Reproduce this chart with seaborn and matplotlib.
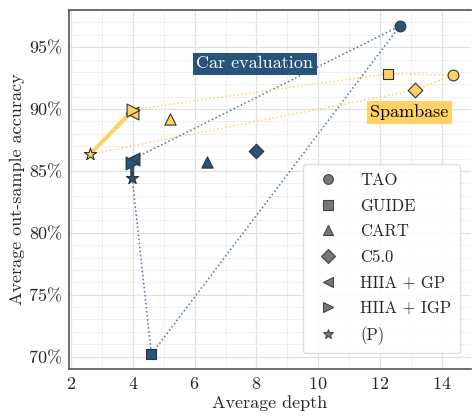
import pandas as pd
import numpy as np
import matplotlib
matplotlib.use('Agg')
import matplotlib.pyplot as plt
import seaborn as sns
from matplotlib.lines import Line2D
from matplotlib.ticker import PercentFormatter, MultipleLocator

methods = ['TAO', 'GUIDE', 'CART', 'C5.0', 'HIIA + GP', 'HIIA + IGP', '(P)']
car_depth = [12.65, 4.6, 6.4, 8.0, 4.0, 3.96, 3.98]
car_acc = [96.72, 70.2, 85.75, 86.6, 85.95, 85.6, 84.41]
spam_depth = [14.35, 12.26, 5.2, 13.15, 3.97, 3.99, 2.61]
spam_acc = [92.74, 92.85, 89.19, 91.53, 89.7, 89.95, 86.35]

blue = '#26547c'
yellow = '#ffd166'
markers = {'TAO': 'o', 'GUIDE': 's', 'CART': '^', 'C5.0': 'D',
           'HIIA + GP': '<', 'HIIA + IGP': '>', '(P)': '*'}
sizes = {'TAO': 60, 'GUIDE': 60, 'CART': 65, 'C5.0': 55,
         'HIIA + GP': 85, 'HIIA + IGP': 85, '(P)': 85}
leg_sizes = {'TAO': 7, 'GUIDE': 7, 'CART': 7, 'C5.0': 7.5,
             'HIIA + GP': 7.5, 'HIIA + IGP': 7.5, '(P)': 7.5}

df = pd.DataFrame({
    'method': methods * 2,
    'depth': car_depth + spam_depth,
    'acc': car_acc + spam_acc,
    'dataset': ['Car evaluation'] * 7 + ['Spambase'] * 7,
})

sns.set_style('whitegrid')
plt.rcParams['font.family'] = 'serif'
plt.rcParams['font.serif'] = ['cmr10', 'DejaVu Serif']
plt.rcParams['mathtext.fontset'] = 'cm'
plt.rcParams['axes.formatter.use_mathtext'] = True

fig = plt.figure(figsize=(4.72, 4.16), dpi=100)
ax = fig.add_axes([0.146, 0.113, 0.852, 0.863])


def pt(ds, m):
    row = df[(df.dataset == ds) & (df.method == m)].iloc[0]
    return row.depth, row.acc


def path(ds, seq, color, **kw):
    xs = [pt(ds, m)[0] for m in seq]
    ys = [pt(ds, m)[1] for m in seq]
    ax.plot(xs, ys, color=color, zorder=2, **kw)


# dotted connections
path('Car evaluation', ['(P)', 'GUIDE', 'TAO', 'HIIA + GP'], '#4a74a0', ls=':', lw=1.1)
path('Spambase', ['(P)', 'C5.0', 'TAO', 'GUIDE', 'HIIA + IGP'], yellow, ls=':', lw=1.1)
# solid thick links
for m in ['HIIA + GP', 'HIIA + IGP']:
    path('Car evaluation', ['(P)', m], blue, lw=2.5, solid_capstyle='butt')
    path('Spambase', ['(P)', m], yellow, lw=2.5, alpha=0.85, solid_capstyle='butt')

for ds, col in [('Car evaluation', blue), ('Spambase', yellow)]:
    sub = df[df.dataset == ds]
    for m in methods:
        s = sub[sub.method == m]
        sns.scatterplot(data=s, x='depth', y='acc', marker=markers[m], s=sizes[m],
                        color=col, edgecolor='#333333', linewidth=0.8, ax=ax,
                        zorder=4, legend=False)

ax.text(7.95, 93.65, 'Car evaluation', color='white', fontsize=13, ha='center', va='center',
        bbox=dict(boxstyle='square,pad=0.2', fc=blue, ec='none'), zorder=5)
ax.text(12.95, 89.75, 'Spambase', color='black', fontsize=13, ha='center', va='center',
        bbox=dict(boxstyle='square,pad=0.2', fc=yellow, ec='none'), zorder=5)

ax.set_xlim(1.93, 14.95)
ax.set_ylim(69.0, 98.0)
ax.xaxis.set_major_locator(MultipleLocator(2))
ax.xaxis.set_minor_locator(MultipleLocator(1))
ax.yaxis.set_major_locator(MultipleLocator(5))
ax.yaxis.set_minor_locator(MultipleLocator(1))
ax.yaxis.set_major_formatter(PercentFormatter(decimals=0))
ax.grid(which='major', color='#e0e0e0', lw=0.9)
ax.grid(which='minor', color='#efefef', lw=0.7)
ax.set_axisbelow(True)
for side in ['left', 'bottom', 'top']:
    ax.spines[side].set_color('#555555')
    ax.spines[side].set_linewidth(1.2)
ax.spines['right'].set_visible(False)
ax.tick_params(axis='both', which='major', labelsize=13, length=3, color='#555555', pad=2)
ax.tick_params(which='minor', length=0)
ax.set_xlabel('Average depth', fontsize=13, labelpad=2)
ax.set_ylabel('Average out-sample accuracy', fontsize=13, labelpad=3)

handles = [Line2D([], [], ls='none', marker=markers[m], markersize=leg_sizes[m],
                  markerfacecolor='#777777', markeredgecolor='#444444', markeredgewidth=0.8,
                  label=m) for m in methods]
ax.legend(handles=handles, loc='lower right', fontsize=12, frameon=True, fancybox=True,
          edgecolor='#dddddd', framealpha=0.9, handletextpad=0.95, labelspacing=0.62,
          borderpad=0.5, bbox_to_anchor=(0.993, 0.02))

fig.savefig('out.png', dpi=100)
